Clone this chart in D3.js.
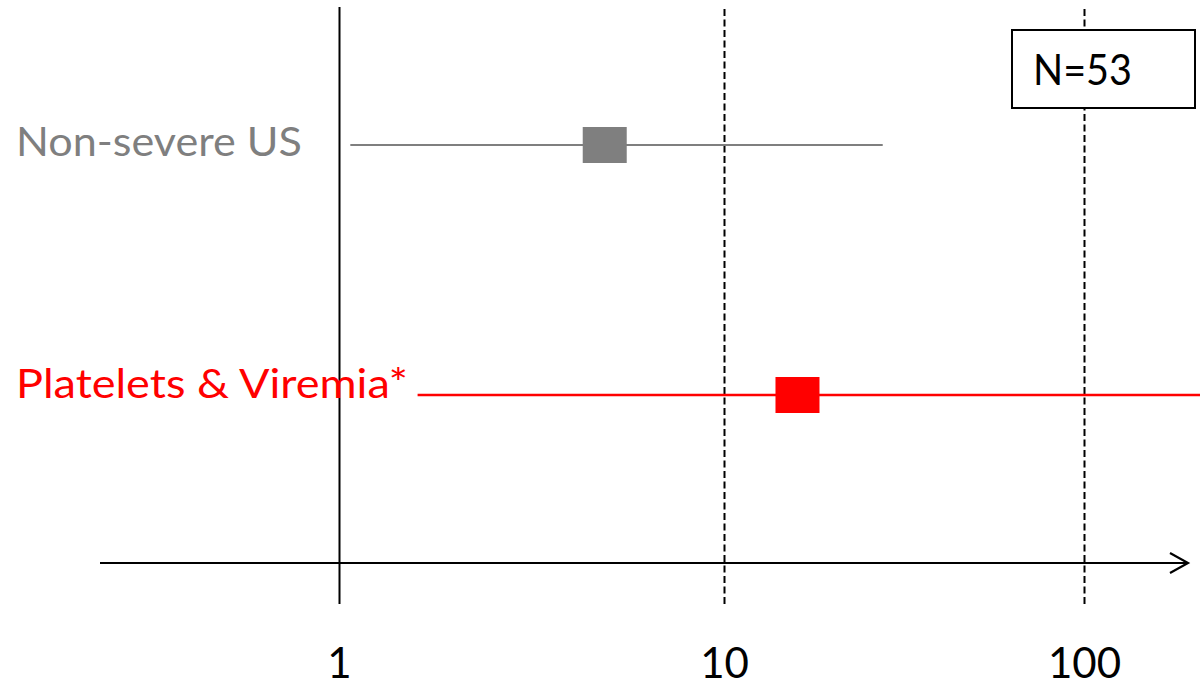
<!DOCTYPE html>
<html>
<head>
<meta charset="utf-8">
<script src="https://cdn.jsdelivr.net/npm/d3@7"></script>
<style>
  html, body { margin: 0; padding: 0; background: #fff; }
  svg { display: block; }
  text { font-family: Lato, "Open Sans", "DejaVu Sans", sans-serif; }
</style>
</head>
<body>
<svg id="chart" width="1200" height="686"></svg>
<script>
// ---- data ----
const categories = ["Non-severe US", "Platelets & Viremia*"];
const estimates = [4.9, 16];
const lowerCI = [1.07, 1.6];
const upperCI = [27.6, 250];
const seriesColors = ["#7f7f7f", "#ff0000"];
const tickValues = [1, 10, 100];
const tickLabels = ["1", "10", "100"];
const noteText = "N=53";

// ---- layout ----
const W = 1200, H = 686;
const svg = d3.select("#chart");
svg.append("rect").attr("width", W).attr("height", H).attr("fill", "#fff");

const x = d3.scaleLog().domain([1, 10, 100]).range([339, 724, 1084]);
const y = d3.scalePoint().domain(categories).range([145, 395]);

const lineTop = 7, lineBottom = 604, axisY = 563;

// reference lines via axis
const axis = d3.axisBottom(x)
  .tickValues(tickValues)
  .tickFormat((d, i) => tickLabels[i])
  .tickSizeInner(-(lineBottom - lineTop))
  .tickSizeOuter(0)
  .tickPadding(0);

const gAxis = svg.append("g")
  .attr("transform", `translate(0,${lineBottom})`)
  .call(axis);
gAxis.select(".domain").remove();
gAxis.selectAll(".tick line")
  .attr("stroke", "#000")
  .attr("stroke-width", 2)
  .attr("stroke-dasharray", (d, i) => i === 0 ? null : "7,3.5");
gAxis.selectAll(".tick text")
  .attr("y", 678 - lineBottom)
  .attr("dy", 0)
  .attr("fill", "#000")
  .attr("font-size", 42)
  .attr("text-anchor", "middle");

// horizontal axis with arrow
const tipX = 1188;
svg.append("line")
  .attr("x1", 100).attr("x2", tipX)
  .attr("y1", axisY).attr("y2", axisY)
  .attr("stroke", "#000").attr("stroke-width", 2.2);
svg.append("path")
  .attr("d", `M${tipX - 18},${axisY - 10} L${tipX},${axisY} L${tipX - 18},${axisY + 10}`)
  .attr("fill", "none").attr("stroke", "#000").attr("stroke-width", 2.2);

// CI lines
svg.append("g").selectAll("line")
  .data(categories)
  .join("line")
  .attr("x1", (d, i) => x(lowerCI[i]))
  .attr("x2", (d, i) => Math.min(x(upperCI[i]), W))
  .attr("y1", d => y(d))
  .attr("y2", d => y(d))
  .attr("stroke", (d, i) => seriesColors[i])
  .attr("stroke-width", (d, i) => i === 0 ? 2.2 : 2.6);

// point estimate squares
const mw = 44, mh = 36;
svg.append("g").selectAll("rect")
  .data(categories)
  .join("rect")
  .attr("x", (d, i) => x(estimates[i]) - mw / 2)
  .attr("y", d => y(d) - mh / 2)
  .attr("width", mw)
  .attr("height", mh)
  .attr("fill", (d, i) => seriesColors[i]);

// category labels
const labelBaselineOffset = [11, 3];
const labelWidths = [286, 392];
svg.append("g").selectAll("text")
  .data(categories)
  .join("text")
  .attr("x", 16)
  .attr("y", (d, i) => y(d) + labelBaselineOffset[i])
  .attr("fill", (d, i) => seriesColors[i])
  .attr("font-size", 41)
  .attr("textLength", (d, i) => labelWidths[i])
  .attr("lengthAdjust", "spacingAndGlyphs")
  .text(d => d);

// N box
svg.append("rect")
  .attr("x", 1012).attr("y", 30)
  .attr("width", 183).attr("height", 78)
  .attr("fill", "#fff").attr("stroke", "#000").attr("stroke-width", 2);
svg.append("text")
  .attr("x", 1033).attr("y", 85)
  .attr("font-size", 42)
  .attr("fill", "#000")
  .attr("textLength", 99)
  .attr("lengthAdjust", "spacingAndGlyphs")
  .text(noteText);
</script>
</body>
</html>
